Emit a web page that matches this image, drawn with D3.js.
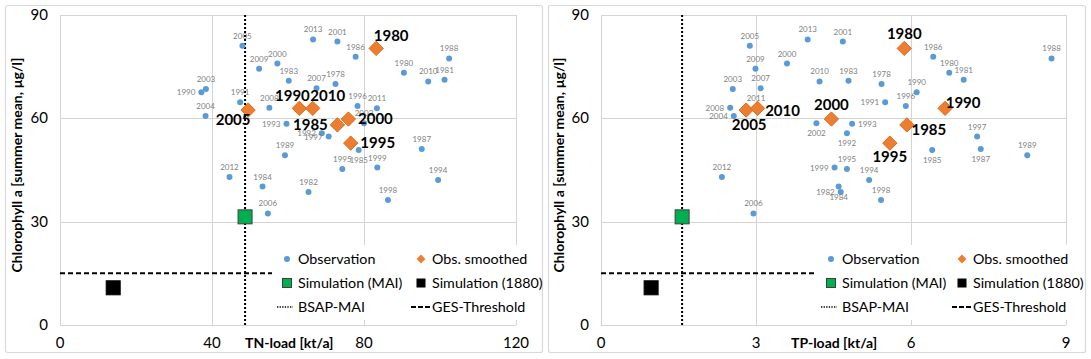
<!DOCTYPE html>
<html>
<head>
<meta charset="utf-8">
<script src="https://cdn.jsdelivr.net/npm/d3@7"></script>
<style>
  body { margin: 0; background: #fff; }
  svg { display: block; font-family: Lato, "Liberation Sans", sans-serif; }
</style>
</head>
<body>
<div id="container"></div>
<script>
/* DATA */
const obsYears = [1978, 1980, 1981, 1982, 1983, 1984, 1985, 1986, 1987, 1988, 1989, 1990, 1991, 1992, 1993, 1994, 1995, 1996,
  1997, 1998, 1999, 2000, 2001, 2002, 2003, 2004, 2005, 2006, 2007, 2008, 2009, 2010, 2011, 2012, 2013];
const obsTN = [72.5, 90.5, 101.2, 65.4, 60.2, 53.3, 78.6, 77.8, 95.2, 102.4, 59.2, 37.2, 47.4, 68.9, 59.6, 99.5, 74.3, 78.3,
  70.7, 86.3, 83.5, 57.2, 73.0, 80.0, 38.4, 38.3, 48.0, 54.7, 67.5, 55.1, 52.4, 96.9, 83.4, 44.6, 66.6];
const obsTP = [5.43, 6.74, 7.02, 4.64, 4.79, 4.60, 6.41, 6.43, 7.35, 8.72, 8.25, 6.11, 5.50, 4.76, 4.86, 5.19, 4.76, 5.90,
  7.28, 5.42, 4.52, 3.60, 4.68, 4.17, 2.55, 2.57, 2.88, 2.95, 3.09, 2.50, 2.99, 4.23, 3.00, 2.34, 4.00];
const obsChl = [70.0, 73.2, 71.2, 38.6, 70.9, 40.2, 50.8, 77.9, 51.1, 77.4, 49.3, 67.6, 64.7, 55.7, 58.4, 42.1, 45.3, 63.6,
  54.7, 36.3, 45.7, 75.9, 82.3, 58.6, 68.5, 60.7, 81.1, 32.4, 68.7, 63.1, 74.4, 70.7, 62.9, 43.0, 82.9];

const smYears = [1980, 1985, 1990, 1995, 2000, 2005, 2010];
const smTN = [83.2, 73.0, 63.0, 76.5, 75.9, 49.5, 66.5];
const smTP = [5.87, 5.92, 6.66, 5.59, 4.46, 2.81, 3.03];
const smChl = [80.3, 58.1, 62.9, 52.8, 59.8, 62.4, 62.9];

const simNames = ["Simulation (MAI)", "Simulation (1880)"];
const simTN = [48.7, 14.0];
const simTP = [1.57, 0.97];
const simChl = [31.4, 10.8];

const bsapTN = 48.7;
const bsapTP = 1.57;
const gesChl = 15;

const yTicks = [0, 30, 60, 90];
const tnTicks = [0, 40, 80, 120];
const tpTicks = [0, 3, 6, 9];

const yTitle = "Chlorophyll a [summer mean, µg/l]";
const legendNames = ["Observation", "Obs. smoothed", "Simulation (MAI)", "Simulation (1880)", "BSAP-MAI", "GES-Threshold"];

/* LABEL PLACEMENT (t = top, b = bottom, l = left, r = right) */
const obsLabelPosTN = {1990: "l", 1993: "l", 1992: "l", 1997: "l", 1985: "b"};
const obsLabelPosTP = {2008: "l", 2004: "l", 2002: "b", 1993: "r", 1992: "b", 1999: "l", 1982: "l", 1984: "b",
  1991: "l", 1985: "b", 1987: "b"};
const smLabelOffTN = {1980: [15, -12], 1985: [-27, 0], 1990: [-7, -12], 1995: [27, 0], 2000: [27, 0], 2005: [-15, 10], 2010: [15, -12]};
const smLabelOffTP = {1980: [0, -14], 1985: [22, 5], 1990: [18, -5], 1995: [0, 14], 2000: [0, -14], 2005: [3, 15], 2010: [25, 3]};

const panels = [
  {xs: obsTN, sm: smTN, sim: simTN, bsap: bsapTN, ticks: tnTicks, domain: [0, 120], xTitle: "TN-load [kt/a]",
   left: 60, right: 516, box: [5, 542], yTitleX: 17, xTitleX: 245, legX: 287, legX2: 421, legTop: 245, legRight: 541,
   obsPos: obsLabelPosTN, smOff: smLabelOffTN},
  {xs: obsTP, sm: smTP, sim: simTP, bsap: bsapTP, ticks: tpTicks, domain: [0, 9], xTitle: "TP-load [kt/a]",
   left: 601, right: 1066, box: [548, 1085], yTitleX: 559, xTitleX: 791, legX: 831, legX2: 962, legTop: 245, legRight: 1082,
   obsPos: obsLabelPosTP, smOff: smLabelOffTP}
];

const width = 1091, height = 359;
const plotTop = 15, plotBottom = 325;

const svg = d3.select("#container").append("svg")
  .attr("width", width)
  .attr("height", height);

const yScale = d3.scaleLinear().domain([0, 90]).range([plotBottom, plotTop]);

panels.forEach(p => {
  const g = svg.append("g");
  const xScale = d3.scaleLinear().domain(p.domain).range([p.left, p.right]);

  // outer frame
  g.append("rect")
    .attr("x", p.box[0] + 0.5).attr("y", 5.5)
    .attr("width", p.box[1] - p.box[0]).attr("height", 347)
    .attr("rx", 2)
    .attr("fill", "none").attr("stroke", "#d9d9d9").attr("stroke-width", 1.2);

  // gridlines
  g.selectAll(".gy").data(yTicks).join("line")
    .attr("x1", p.left).attr("x2", p.right)
    .attr("y1", d => Math.round(yScale(d)) + 0.5).attr("y2", d => Math.round(yScale(d)) + 0.5)
    .attr("stroke", "#d4d4d4");
  g.selectAll(".gx").data(p.ticks).join("line")
    .attr("x1", d => Math.round(xScale(d)) + 0.5).attr("x2", d => Math.round(xScale(d)) + 0.5)
    .attr("y1", plotTop).attr("y2", plotBottom)
    .attr("stroke", "#d4d4d4");

  // tick labels
  g.selectAll(".ty").data(yTicks).join("text")
    .attr("x", p.left - 12).attr("y", d => yScale(d) + 5)
    .attr("text-anchor", "end").attr("font-size", 15).attr("fill", "#000")
    .text(d => d);
  g.selectAll(".tx").data(p.ticks).join("text")
    .attr("x", d => xScale(d)).attr("y", 348)
    .attr("text-anchor", "middle").attr("font-size", 15).attr("fill", "#000")
    .text(d => d);

  // axis titles
  g.append("text")
    .attr("x", p.xTitleX).attr("y", 348)
    .attr("font-size", 14).attr("font-weight", "bold")
    .text(p.xTitle);
  g.append("text")
    .attr("transform", `translate(${p.yTitleX + 5},${165}) rotate(-90)`)
    .attr("text-anchor", "middle").attr("font-size", 14).attr("font-weight", "bold")
    .text(yTitle);

  // GES threshold
  g.append("line")
    .attr("x1", xScale(0)).attr("x2", p.right)
    .attr("y1", yScale(gesChl)).attr("y2", yScale(gesChl))
    .attr("stroke", "#000").attr("stroke-width", 2).attr("stroke-dasharray", "5,3");
  // BSAP-MAI
  g.append("line")
    .attr("x1", xScale(p.bsap)).attr("x2", xScale(p.bsap))
    .attr("y1", plotTop).attr("y2", plotBottom)
    .attr("stroke", "#000").attr("stroke-width", 2).attr("stroke-dasharray", "2,2");

  // observations
  const obs = obsYears.map((y, i) => ({year: y, x: p.xs[i], chl: obsChl[i]}));
  g.selectAll(".obs").data(obs).join("circle")
    .attr("cx", d => xScale(d.x)).attr("cy", d => yScale(d.chl)).attr("r", 3)
    .attr("fill", "#5b9bd5");
  g.selectAll(".obsl").data(obs).join("text")
    .attr("font-size", 8).attr("fill", "#7f7f7f")
    .each(function(d) {
      const pos = p.obsPos[d.year] || "t";
      const cx = xScale(d.x), cy = yScale(d.chl);
      const t = d3.select(this);
      if (pos === "t") t.attr("x", cx).attr("y", cy - 7).attr("text-anchor", "middle");
      else if (pos === "b") t.attr("x", cx).attr("y", cy + 13).attr("text-anchor", "middle");
      else if (pos === "l") t.attr("x", cx - 6).attr("y", cy + 3).attr("text-anchor", "end");
      else t.attr("x", cx + 6).attr("y", cy + 3).attr("text-anchor", "start");
    })
    .text(d => d.year);

  // simulations
  const sims = simNames.map((n, i) => ({name: n, x: p.sim[i], chl: simChl[i]}));
  g.selectAll(".sim").data(sims).join("rect")
    .attr("x", d => xScale(d.x) - 7).attr("y", d => yScale(d.chl) - 7)
    .attr("width", 14).attr("height", 14)
    .attr("fill", (d, i) => i === 0 ? "#00b050" : "#000")
    .attr("stroke", (d, i) => i === 0 ? "#3f3f3f" : "#000").attr("stroke-width", 1);

  // smoothed observations
  const sm = smYears.map((y, i) => ({year: y, x: p.sm[i], chl: smChl[i]}));
  g.selectAll(".sm").data(sm).join("path")
    .attr("d", d3.symbol(d3.symbolDiamond2, 130))
    .attr("transform", d => `translate(${xScale(d.x)},${yScale(d.chl)})`)
    .attr("fill", "#ed7d31").attr("stroke", "#e06a1b").attr("stroke-width", 1);
  g.selectAll(".sml").data(sm).join("text")
    .attr("x", d => xScale(d.x) + p.smOff[d.year][0])
    .attr("y", d => yScale(d.chl) + p.smOff[d.year][1] + 5)
    .attr("text-anchor", "middle").attr("font-size", 15).attr("font-weight", "bold")
    .text(d => d.year);

  // legend
  const lg = g.append("g");
  lg.append("rect")
    .attr("x", p.legX - 15).attr("y", p.legTop)
    .attr("width", p.legRight - p.legX + 15).attr("height", 75)
    .attr("fill", "#fff");
  const rows = [259, 283, 307];
  const tx1 = p.legX + 11, tx2 = p.legX2 + 11;
  lg.append("circle").attr("cx", p.legX).attr("cy", rows[0]).attr("r", 3).attr("fill", "#5b9bd5");
  lg.append("path").attr("d", d3.symbol(d3.symbolDiamond2, 50))
    .attr("transform", `translate(${p.legX2},${rows[0]})`).attr("fill", "#ed7d31");
  lg.append("rect").attr("x", p.legX - 4.5).attr("y", rows[1] - 4.5).attr("width", 9).attr("height", 9)
    .attr("fill", "#00b050").attr("stroke", "#3f3f3f");
  lg.append("rect").attr("x", p.legX2 - 4.5).attr("y", rows[1] - 4.5).attr("width", 9).attr("height", 9)
    .attr("fill", "#000");
  lg.append("line").attr("x1", p.legX - 10).attr("x2", p.legX + 6).attr("y1", rows[2]).attr("y2", rows[2])
    .attr("stroke", "#000").attr("stroke-width", 1.3).attr("stroke-dasharray", "1.3,1.3");
  lg.append("line").attr("x1", p.legX2 - 10).attr("x2", p.legX2 + 9).attr("y1", rows[2]).attr("y2", rows[2])
    .attr("stroke", "#000").attr("stroke-width", 2).attr("stroke-dasharray", "5,2");
  const texts = [[tx1, rows[0], 0], [tx2, rows[0], 1], [tx1, rows[1], 2], [tx2, rows[1], 3], [tx1, rows[2], 4], [tx2, rows[2], 5]];
  lg.selectAll("text").data(texts).join("text")
    .attr("x", d => d[0]).attr("y", d => d[1] + 5)
    .attr("font-size", 14.3).attr("fill", "#000")
    .text(d => legendNames[d[2]]);
});
</script>
</body>
</html>
